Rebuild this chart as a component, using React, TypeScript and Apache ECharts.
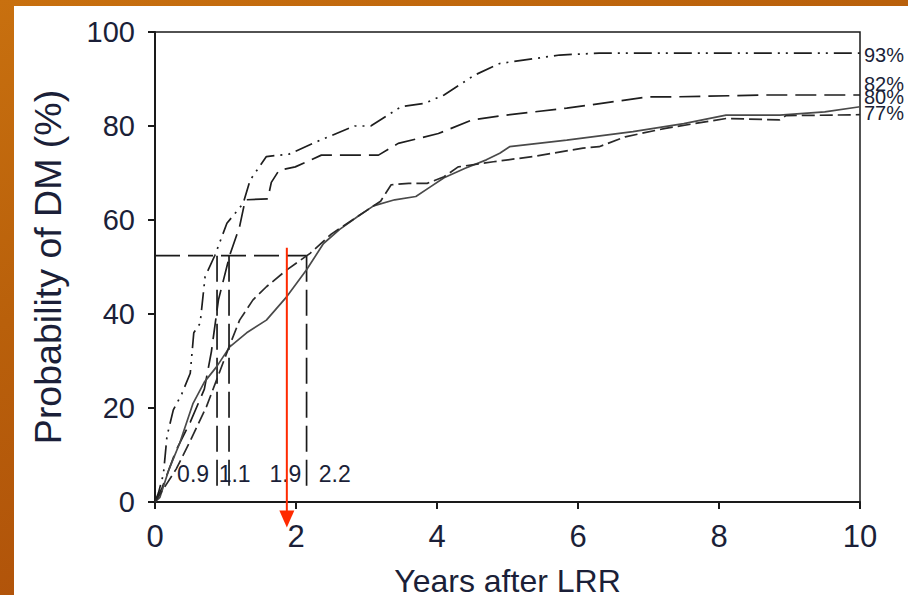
import React, { useEffect, useRef } from "react";
import * as echarts from "echarts";

// ---- data ----
const curve93X = [0, 0.05, 0.12, 0.17, 0.26, 0.38, 0.5, 0.55, 0.64, 0.71, 0.85, 1.02, 1.25, 1.35, 1.58, 1.9, 2.3, 2.83, 3.06, 3.49, 3.82, 4.1, 4.53, 4.89, 5.74, 6.3, 10];
const curve93Y = [0, 2, 6, 14, 19.6, 23, 27.4, 36, 38, 47.9, 52.5, 59.3, 63.5, 68.5, 73.5, 74, 76.7, 80, 80, 84.1, 84.8, 86.6, 90.8, 93.3, 95.1, 95.5, 95.5];

const curve82X = [0, 0.1, 0.3, 0.5, 0.7, 0.8, 0.9, 1.06, 1.2, 1.28, 1.6, 1.65, 1.76, 1.99, 2.36, 3.17, 3.45, 4.02, 4.5, 4.97, 5.84, 7.0, 7.35, 8.67, 10];
const curve82Y = [0, 3, 11, 17, 24, 32, 43, 52.5, 58.6, 64.3, 64.5, 68, 70.6, 71.3, 73.8, 73.8, 76.3, 78.4, 81.3, 82.3, 83.8, 86.2, 86.2, 86.6, 86.6];

const curve80X = [0, 0.07, 0.2, 0.35, 0.54, 0.7, 0.875, 1.06, 1.3, 1.58, 1.87, 2.15, 2.39, 2.62, 2.9, 3.1, 3.4, 3.7, 3.9, 4.1, 4.4, 4.7, 4.89, 5.03, 5.84, 6.78, 7.5, 8.1, 8.86, 9.5, 10];
const curve80Y = [0, 1, 7, 12.5, 21, 25.5, 28.8, 33, 36, 38.7, 43.7, 49.4, 55, 58, 61, 63, 64.3, 65, 67, 69, 71, 72.8, 74.2, 75.6, 77, 78.8, 80.5, 82.3, 82.3, 83, 84.1];

const curve77X = [0, 0.3, 0.5, 0.73, 0.9, 1.05, 1.2, 1.39, 1.58, 1.87, 2.2, 2.5, 2.8, 3.0, 3.2, 3.35, 3.6, 3.86, 4.1, 4.3, 4.8, 5.36, 6.07, 6.3, 6.67, 7.24, 8.1, 8.86, 8.95, 10];
const curve77Y = [0, 7, 13, 20.3, 27, 33, 38.7, 43, 45.8, 49.4, 52.9, 57, 60, 62, 64, 67.5, 67.8, 67.8, 69.2, 71.3, 72.4, 73.5, 75.3, 75.6, 77.7, 79.5, 81.6, 81.3, 82.2, 82.4];

const endLabels = ["93%", "82%", "80%", "77%"];
const medianLevel = 52.4;
const medianTimes = [0.88, 1.05, 2.15];
const medianBottom = 2.2;
const annotationTexts = ["0.9", "1.1", "1.9", "2.2"];
const annotationX = [0.54, 1.13, 1.85, 2.55];
const annotationY = 6;
const arrowX = 1.87;
const arrowTop = 54.1;
const arrowBottom = -3.6;

const xTicks = { min: 0, max: 10, interval: 2 };
const yTicks = { min: 0, max: 100, interval: 20 };

const zip = (xs: number[], ys: number[]) => xs.map((x, i) => [x, ys[i]]);

const SANS = "'Liberation Sans', Arial, Helvetica, sans-serif";
const TXT = "#1b1f38";

export default function App() {
  const ref = useRef<HTMLDivElement>(null);
  useEffect(() => {
    if (!ref.current) return;
    const chart = echarts.init(ref.current, undefined, { renderer: "svg" });
    const curveSeries = (
      name: string,
      xs: number[],
      ys: number[],
      type: any,
      color: string,
      label: string,
      dy: number
    ) => ({
      name,
      type: "line",
      data: zip(xs, ys),
      showSymbol: false,
      symbol: "none",
      lineStyle: { color, width: 1.7, type },
      endLabel: {
        show: true,
        formatter: label,
        color: TXT,
        fontFamily: SANS,
        fontSize: 20,
        distance: 4,
        offset: [0, dy],
      },
      z: 3,
    });
    const option: any = {
      animation: false,
      backgroundColor: "transparent",
      grid: {
        left: 155,
        right: 48,
        top: 32,
        bottom: 93,
        containLabel: false,
        outerBoundsMode: "none",
        show: true,
        backgroundColor: "#ffffff",
        borderColor: "#1a1a1a",
        borderWidth: 1.5,
      },
      xAxis: {
        type: "value",
        ...xTicks,
        name: "Years after LRR",
        nameLocation: "middle",
        nameGap: 63,
        nameTextStyle: { fontFamily: SANS, fontSize: 32, color: TXT },
        axisLine: { show: true, onZero: false, lineStyle: { color: "#1a1a1a", width: 2 } },
        axisTick: { show: true, inside: false, length: 7, lineStyle: { color: "#1a1a1a", width: 2 } },
        axisLabel: { margin: 19, fontFamily: SANS, fontSize: 31, color: TXT },
        splitLine: { show: false },
      },
      yAxis: {
        type: "value",
        ...yTicks,
        name: "Probability of DM (%)",
        nameLocation: "middle",
        nameGap: 88,
        nameTextStyle: { fontFamily: SANS, fontSize: 37.5, color: TXT },
        axisLine: { show: true, onZero: false, lineStyle: { color: "#1a1a1a", width: 2 } },
        axisTick: { show: true, inside: false, length: 7, lineStyle: { color: "#1a1a1a", width: 2 } },
        axisLabel: { margin: 20, fontFamily: SANS, fontSize: 29, color: TXT },
        splitLine: { show: false },
      },
      series: [
        curveSeries("93", curve93X, curve93Y, [18, 6, 2, 6, 2, 6], "#1e1e1e", endLabels[0], 2),
        curveSeries("82", curve82X, curve82Y, [21, 8], "#1e1e1e", endLabels[1], -11),
        curveSeries("80", curve80X, curve80Y, "solid", "#4a4a4a", endLabels[2], -10),
        curveSeries("77", curve77X, curve77Y, [13, 5], "#2a2a2a", endLabels[3], -2),
        {
          name: "median-h",
          type: "line",
          data: [[0, medianLevel], [medianTimes[2], medianLevel]],
          showSymbol: false,
          symbol: "none",
          lineStyle: { color: "#1a1a1a", width: 1.7, type: [25, 8] },
          z: 2,
        },
        ...medianTimes.map((t, i) => ({
          name: "median-v" + i,
          type: "line",
          data: [[t, medianLevel], [t, medianBottom]],
          showSymbol: false,
          symbol: "none",
          lineStyle: { color: "#1a1a1a", width: 1.7, type: [26, 8] },
          z: 2,
        })),
        {
          name: "annotations",
          type: "scatter",
          symbolSize: 1,
          itemStyle: { opacity: 1, color: "rgba(0,0,0,0)" },
          data: annotationX.map((x, i) => ({ value: [x, annotationY], label: { formatter: annotationTexts[i] } })),
          label: {
            show: true,
            position: "inside",
            color: TXT,
            opacity: 1,
            textBorderWidth: 0,
            fontFamily: SANS,
            fontSize: 23,
          },
          z: 4,
        },
        {
          name: "arrow",
          type: "line",
          clip: false,
          data: [
            { value: [arrowX, arrowTop], symbol: "none" },
            { value: [arrowX, arrowBottom], symbol: "triangle", symbolSize: [15, 17], symbolRotate: 180 },
          ],
          showSymbol: true,
          showAllSymbol: true,
          itemStyle: { color: "#ff2a00" },
          lineStyle: { color: "#ff2a00", width: 2 },
          z: 5,
        },
      ],
    };
    chart.setOption(option);
    return () => chart.dispose();
  }, []);

  return (
    <div
      style={{
        position: "absolute",
        left: 0,
        top: 0,
        width: 908,
        height: 595,
        overflow: "hidden",
        background: "linear-gradient(160deg, #c8700f 0%, #b9600b 35%, #b0520a 70%, #c06410 100%)",
      }}
    >
      <div style={{ position: "absolute", left: 14, top: 6, right: 0, bottom: 0, background: "#ffffff" }} />
      <div ref={ref} style={{ position: "absolute", left: 0, top: 0, width: 908, height: 595 }} />
    </div>
  );
}
